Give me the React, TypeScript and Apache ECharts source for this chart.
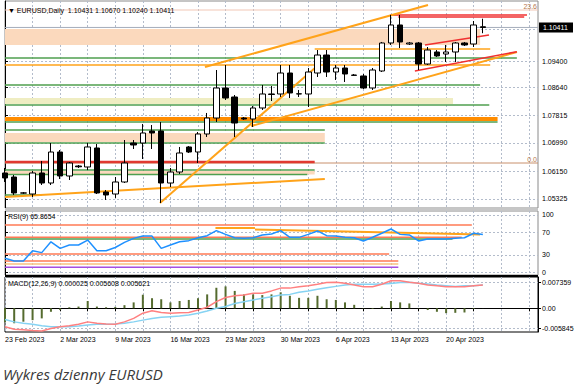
import { useEffect, useRef } from "react";
import * as echarts from "echarts";

const SYMBOL = "EURUSD";
const TIMEFRAME = "Daily";
const CAPTION = "Wykres dzienny EURUSD";
const SLOT_COUNT = 59;
const FIRST_DAY = Date.UTC(2023, 1, 23);
const MONTHS = ["Jan", "Feb", "Mar", "Apr", "May", "Jun", "Jul", "Aug", "Sep", "Oct", "Nov", "Dec"];

// [open, close, low, high]
const candles: number[][] = [
  [1.06096, 1.05948, 1.05829, 1.06244],
  [1.05977, 1.05503, 1.05444, 1.06037],
  [1.055, 1.05505, 1.05473, 1.05532],
  [1.05473, 1.06096, 1.05384, 1.06155],
  [1.06096, 1.05799, 1.0574, 1.06452],
  [1.05799, 1.06718, 1.0574, 1.06985],
  [1.06718, 1.06007, 1.05918, 1.06778],
  [1.06007, 1.06392, 1.05888, 1.06422],
  [1.06303, 1.0628, 1.06244, 1.06333],
  [1.06274, 1.06867, 1.06185, 1.06985],
  [1.06837, 1.05503, 1.05473, 1.06956],
  [1.05532, 1.05444, 1.05296, 1.05592],
  [1.05473, 1.05829, 1.05355, 1.05977],
  [1.05829, 1.06392, 1.05799, 1.07074],
  [1.06985, 1.06926, 1.06807, 1.07074],
  [1.06985, 1.07282, 1.06511, 1.07549],
  [1.07341, 1.07282, 1.06807, 1.07519],
  [1.07341, 1.05799, 1.05207, 1.07608],
  [1.05799, 1.06125, 1.05681, 1.06244],
  [1.06125, 1.06689, 1.06066, 1.06867],
  [1.06867, 1.06718, 1.06689, 1.06896],
  [1.06718, 1.07252, 1.06392, 1.07311],
  [1.07252, 1.07726, 1.07163, 1.07875],
  [1.07726, 1.08616, 1.07608, 1.09149],
  [1.08616, 1.08319, 1.0826, 1.09298],
  [1.08349, 1.07578, 1.07163, 1.08408],
  [1.07726, 1.07697, 1.07667, 1.07756],
  [1.07697, 1.08023, 1.0746, 1.08082],
  [1.08023, 1.08438, 1.07964, 1.08705],
  [1.08438, 1.08425, 1.0823, 1.08675],
  [1.08438, 1.0906, 1.08349, 1.09298],
  [1.0906, 1.08468, 1.08319, 1.09298],
  [1.08438, 1.08445, 1.08349, 1.08557],
  [1.08438, 1.0909, 1.08053, 1.09209],
  [1.0906, 1.09594, 1.08942, 1.09742],
  [1.09594, 1.0909, 1.08942, 1.09742],
  [1.0909, 1.09209, 1.08853, 1.09298],
  [1.09209, 1.09031, 1.08794, 1.09298],
  [1.09001, 1.0899, 1.08972, 1.09031],
  [1.08972, 1.08616, 1.08586, 1.09031],
  [1.08616, 1.09149, 1.08557, 1.09209],
  [1.0912, 1.0995, 1.0909, 1.0998],
  [1.0995, 1.10484, 1.09891, 1.1078],
  [1.10484, 1.0998, 1.09802, 1.1078],
  [1.0992, 1.0995, 1.09891, 1.0998],
  [1.0995, 1.09327, 1.09149, 1.0998],
  [1.09327, 1.09742, 1.09298, 1.09831],
  [1.09683, 1.09565, 1.09535, 1.09742],
  [1.09624, 1.09683, 1.09387, 1.09891],
  [1.09683, 1.0995, 1.09387, 1.0998],
  [1.0995, 1.09891, 1.09861, 1.0998],
  [1.0992, 1.10484, 1.09831, 1.10602],
  [1.10431, 1.10411, 1.1024, 1.1067],
];

const rsi: number[] = [
  24, 19.3, 19.3, 37.4, 34, 53, 41.5, 47.4, 47.4, 56, 37.4, 37.4, 43, 52, 59, 63, 63, 41.5, 47.4, 53,
  55, 60, 63.7, 72.5, 66, 60, 59, 60, 65, 66.7, 72.5, 60.8, 60.8, 66, 72, 63.7, 63, 61, 60, 54.4,
  61, 68, 75.4, 66, 65, 54.4, 58, 58, 58, 59, 60, 68, 65.8654,
];

const macdHist: number[] = [
  -0.004, -0.0043, -0.00385, -0.0034, -0.0029, -0.001, -0.0005, 0.0003, 0.0005, 0.0021,
  0.0005, 0.0003, 0.0004, 0.0009, 0.0017, 0.0039, 0.0029, 0.0026, 0.0017, 0.0021,
  0.0024, 0.0029, 0.004, 0.0059, 0.0063, 0.005, 0.004, 0.004, 0.0038, 0.004,
  0.0046, 0.0036, 0.003, 0.003, 0.0036, 0.0026, 0.0024, 0.0017, 0.001, -0.0001,
  -0.0002, 0.0005, 0.0021, 0.0017, 0.0014, 0.0001, -0.0005, -0.001, -0.0014, -0.0013,
  -0.0012, -0.0002, 0.000025,
];

const macdMain: number[] = [
  -0.0053, -0.006, -0.0062, -0.0064, -0.0065, -0.0058, -0.0053, -0.005, -0.0046, -0.0039,
  -0.0043, -0.0045, -0.0046, -0.0039, -0.0029, -0.0014, -0.0007, -0.0012, -0.0014, -0.0013,
  -0.0012, -0.0005, 0.0003, 0.0019, 0.0031, 0.0036, 0.0038, 0.0043, 0.0043, 0.005,
  0.0058, 0.0058, 0.0062, 0.0065, 0.0069, 0.0074, 0.0075, 0.0072, 0.0067, 0.0062,
  0.0062, 0.0069, 0.0079, 0.0079, 0.0075, 0.0072, 0.0067, 0.0065, 0.0062, 0.0062,
  0.0062, 0.0065, 0.0067,
];

const macdSignal: number[] = [
  -0.0032, -0.0039, -0.0043, -0.0046, -0.005, -0.0053, -0.0053, -0.0053, -0.0051, -0.0048,
  -0.0046, -0.0046, -0.0045, -0.0043, -0.0039, -0.0034, -0.0029, -0.0026, -0.0024, -0.0022,
  -0.0019, -0.0014, -0.0008, 0, 0.0005, 0.0014, 0.0019, 0.0024, 0.0029, 0.0033,
  0.0038, 0.004, 0.0046, 0.005, 0.0055, 0.0059, 0.0063, 0.0067, 0.0069, 0.0069,
  0.0069, 0.007, 0.0071, 0.0074, 0.0075, 0.0072, 0.007, 0.0067, 0.0065, 0.0063,
  0.0065, 0.0065, 0.0067,
];

const macdHeaderValues = [0.000025, 0.005608, 0.005621];

const priceTicks = [1.05325, 1.0615, 1.0699, 1.07815, 1.0864, 1.094, 1.10365];
const rsiTicks = [0, 30, 70, 100];
const macdTicks = [-0.005845, 0, 0.007359];
const priceRange = [1.05058, 1.11195];
const rsiRange = [-5.26, 107];
const macdRange = [-0.006812, 0.008997];

// chart objects: [price, fromSlot, toSlot]
const greenLevels = [
  [1.09505, 0, 55.7], [1.08705, 0, 51.7], [1.08112, 0, 52.7], [1.07608, 0, 53.6],
  [1.07371, 0, 34.8], [1.06985, 0, 34.8], [1.06185, 0, 33.7], [1.06052, 0, 32.9], [1.05444, 0, 4],
];
const orangeLevels = [[1.09298, 0, 52.8], [1.09772, 33.7, 52.8]];
const keyLevels = [[1.07697, 0, 53.6]];
const redThickLevels = [[1.06422, 0, 33.7]];
const redLevels = [[1.1078, 41.9, 56.8], [1.10721, 42.8, 56.5]];
// [fromSlot, toSlot, lowPrice, highPrice]
const peachZones = [[0, 51.7, 1.09891, 1.10365], [0, 34.8, 1.07015, 1.07282], [0, 33.7, 1.06052, 1.06155]];
const yellowZones = [[0, 48.75, 1.08141, 1.08319]];
// [slot1, price1, slot2, price2]
const orangeTrends = [
  [21.76, 1.09238, 46.03, 1.11077],
  [0, 1.05384, 34.8, 1.05918],
  [16.87, 1.05207, 33.73, 1.09209],
  [26.77, 1.07489, 55.71, 1.09683],
];
const redTrends = [
  [45.7, 1.09891, 52.67, 1.10187],
  [44.6, 1.0912, 55.7, 1.09692],
];
// [label, price]
const fibLabels = ["23.6", "0.0"];
const fibPrices = [1.10928, 1.06392];
// RSI panel objects: [value, fromSlot, toSlot]
const rsiCoralLevels = [[82.5, 0, 50.8], [60.9, 0, 49.7], [31.6, 0, 41.8], [19.3, 0, 42.8]];
const rsiGreenLevels = [[57.9, 0, 48.7]];
const rsiLightLevels = [[14, 0, 42.8]];
const rsiPurpleLevels = [[8.2, 0, 42.8]];
const rsiOrangeTrends = [[22.9, 77.2, 27.2, 77.2], [27.2, 74.6, 51.7, 65.8]];

function buildDates(): string[] {
  const out: string[] = [];
  let t = FIRST_DAY;
  while (out.length < SLOT_COUNT) {
    const d = new Date(t);
    if (d.getUTCDay() !== 6) out.push(`${d.getUTCDate()} ${MONTHS[d.getUTCMonth()]} ${d.getUTCFullYear()}`);
    t += 86400000;
  }
  return out;
}

const FONT = "Liberation Sans";
const GRID_DASH = { color: "#b3bccb", type: [2, 2] as number[], width: 1 };

function seg(xi: number, yi: number, pts: number[][], color: string, width: number, z = 3) {
  return {
    type: "line",
    xAxisIndex: xi,
    yAxisIndex: yi,
    data: pts,
    symbol: "none",
    silent: true,
    lineStyle: { color, width },
    z,
  };
}

function levelSeries(xi: number, yi: number, levels: number[][], color: string, width: number, z = 3) {
  return levels.map((l) => seg(xi, yi, [[l[1], l[0]], [l[2], l[0]]], color, width, z));
}

function trendSeries(xi: number, yi: number, trends: number[][], color: string, width: number, z = 4) {
  return trends.map((t) => seg(xi, yi, [[t[0], t[1]], [t[2], t[3]]], color, width, z));
}

function zoneSeries(zones: number[][], color: string) {
  return {
    type: "line",
    xAxisIndex: 1,
    yAxisIndex: 0,
    data: [],
    silent: true,
    z: 1,
    markArea: {
      silent: true,
      itemStyle: { color },
      data: zones.map((z) => [{ coord: [z[0], z[3]] }, { coord: [z[1], z[2]] }]),
    },
  };
}

export default function App() {
  const ref = useRef<HTMLDivElement>(null);
  useEffect(() => {
    if (!ref.current) return;
    const chart = echarts.init(ref.current, undefined, { renderer: "svg" });
    const dates = buildDates();
    const last = candles[candles.length - 1];
    const lastClose = last[1];
    const lastSlot = SLOT_COUNT - 1;
    const header = `\u25BC ${SYMBOL},${TIMEFRAME}  ${last[0].toFixed(5)} ${last[3].toFixed(5)} ${last[2].toFixed(5)} ${last[1].toFixed(5)}`;
    const rsiHeader = `RSI(9) ${rsi[rsi.length - 1].toFixed(4)}`;
    const macdHeader = `MACD(12,26,9) ${macdHeaderValues.map((v) => v.toFixed(6)).join(" ")}`;

    const catAxis = (gi: number, labels: boolean) => ({
      type: "category",
      gridIndex: gi,
      data: dates,
      boundaryGap: false,
      axisLine: { show: labels, lineStyle: { color: "#000", width: 1 } },
      axisTick: { show: labels, interval: 2, length: 3, lineStyle: { color: "#000" } },
      axisLabel: labels
        ? { show: true, interval: 5, align: "left", fontSize: 7, color: "#000", margin: 4, fontFamily: FONT, showMaxLabel: false }
        : { show: false },
      splitLine: { show: true, interval: 2, lineStyle: GRID_DASH },
    });
    const valAxis = (gi: number) => ({ type: "value", gridIndex: gi, min: 0, max: lastSlot, show: false });
    const yAx = (gi: number, range: number[], ticks: number[], fmt: (v: number) => string) => ({
      type: "value",
      gridIndex: gi,
      position: "right",
      min: range[0],
      max: range[1],
      axisLine: { show: true, lineStyle: { color: "#000", width: 1 } },
      axisTick: { show: true, customValues: ticks, length: 3, lineStyle: { color: "#000" } },
      axisLabel: { customValues: ticks, formatter: fmt, fontSize: 7, color: "#000", margin: 4, fontFamily: FONT },
      splitLine: { show: true, lineStyle: GRID_DASH },
    });

    const option: any = {
      animation: false,
      backgroundColor: "#ffffff",
      grid: [
        { left: 5, top: 1, width: 533, height: 207, show: true, borderColor: "#8a8a8a", borderWidth: 1, outerBoundsMode: "none" },
        { left: 5, top: 211, width: 533, height: 64, show: true, borderColor: "#8a8a8a", borderWidth: 1, outerBoundsMode: "none" },
        { left: 5, top: 277, width: 533, height: 55, show: true, borderColor: "#000", borderWidth: 1, outerBoundsMode: "none" },
      ],
      xAxis: [catAxis(0, false), valAxis(0), catAxis(1, false), valAxis(1), catAxis(2, true)],
      yAxis: [
        yAx(0, priceRange, priceTicks, (v: number) => v.toFixed(5)),
        yAx(1, rsiRange, rsiTicks, (v: number) => String(v)),
        yAx(2, macdRange, macdTicks, (v: number) => (v === 0 ? "0.00" : v.toFixed(6))),
      ],
      series: [
        zoneSeries(peachZones, "#fbd9bd"),
        zoneSeries(yellowZones, "#efedc2"),
        seg(1, 0, [[0, fibPrices[0]], [lastSlot, fibPrices[0]]], "#f1c7b6", 1, 2),
        seg(1, 0, [[0, fibPrices[1]], [lastSlot, fibPrices[1]]], "#c8906c", 1, 2),
        seg(1, 0, [[0, lastClose], [lastSlot, lastClose]], "#a4adba", 1, 2),
        ...levelSeries(1, 0, greenLevels, "#4f9f4f", 1.5),
        ...levelSeries(1, 0, orangeLevels, "#ffa31a", 1.5),
        ...levelSeries(1, 0, keyLevels, "#ff8c00", 4),
        ...levelSeries(1, 0, redThickLevels, "#e0392f", 2.5),
        ...levelSeries(1, 0, redLevels, "#f03030", 1.5),
        ...trendSeries(1, 0, orangeTrends, "#ffa31a", 2),
        ...trendSeries(1, 0, redTrends, "#f03030", 1.5),
        {
          type: "candlestick",
          xAxisIndex: 0,
          yAxisIndex: 0,
          data: candles,
          barWidth: 6,
          z: 5,
          itemStyle: { color: "#ffffff", color0: "#000000", borderColor: "#000000", borderColor0: "#000000", borderWidth: 1 },
        },
        ...levelSeries(3, 1, rsiCoralLevels, "#ff7a55", 1.5),
        ...levelSeries(3, 1, rsiGreenLevels, "#4f9f4f", 1.5),
        ...levelSeries(3, 1, rsiLightLevels, "#f9c080", 1.5),
        ...levelSeries(3, 1, rsiPurpleLevels, "#a64ee0", 1.5),
        ...trendSeries(3, 1, rsiOrangeTrends, "#ffa31a", 2),
        {
          type: "line",
          xAxisIndex: 2,
          yAxisIndex: 1,
          data: rsi,
          symbol: "none",
          silent: true,
          z: 5,
          lineStyle: { color: "#1e90ff", width: 1.5 },
        },
        {
          type: "bar",
          xAxisIndex: 4,
          yAxisIndex: 2,
          data: macdHist,
          barWidth: 2,
          silent: true,
          itemStyle: { color: "#556b2f" },
          z: 3,
        },
        {
          type: "line",
          xAxisIndex: 4,
          yAxisIndex: 2,
          data: macdSignal,
          symbol: "none",
          silent: true,
          z: 4,
          lineStyle: { color: "#86d3f3", width: 1.5 },
        },
        {
          type: "line",
          xAxisIndex: 4,
          yAxisIndex: 2,
          data: macdMain,
          symbol: "none",
          silent: true,
          z: 4,
          lineStyle: { color: "#ff8080", width: 1.5 },
        },
      ],
    };
    chart.setOption(option);

    const toPx = (slot: number, price: number) =>
      chart.convertToPixel({ xAxisIndex: 1, yAxisIndex: 0 } as any, [slot, price]) as number[];
    const pricePx = toPx(lastSlot, lastClose);
    const fibGraphics = fibLabels.map((label, i) => {
      const p = toPx(lastSlot, fibPrices[i]);
      return {
        type: "text",
        x: p[0] - 1,
        y: p[1] - 0.5,
        z: 60,
        silent: true,
        style: { text: label, font: `7px "${FONT}"`, fill: "#b8794c", align: "right", verticalAlign: "bottom" },
      };
    });

    chart.setOption({
      graphic: [
        { type: "rect", shape: { x: 5, y: 208, width: 533, height: 3 }, style: { fill: "#c6c6c6" }, z: 50, silent: true },
        { type: "rect", shape: { x: 5, y: 275, width: 533, height: 2 }, style: { fill: "#000" }, z: 50, silent: true },
        {
          type: "rect",
          shape: { x: pricePx[0] + 1, y: pricePx[1] - 5, width: 34, height: 10 },
          style: { fill: "#000" },
          z: 70,
          silent: true,
        },
        {
          type: "text",
          x: pricePx[0] + 5,
          y: pricePx[1],
          z: 71,
          silent: true,
          style: { text: lastClose.toFixed(5), font: `7px "${FONT}"`, fill: "#fff", verticalAlign: "middle" },
        },
        ...fibGraphics,
        { type: "text", x: 8, y: 10, style: { text: header, font: `7px "${FONT}"`, fill: "#000", verticalAlign: "middle" }, z: 60, silent: true },
        { type: "text", x: 8, y: 216, style: { text: rsiHeader, font: `7px "${FONT}"`, fill: "#000", verticalAlign: "middle" }, z: 60, silent: true },
        { type: "text", x: 8, y: 283, style: { text: macdHeader, font: `7px "${FONT}"`, fill: "#000", verticalAlign: "middle" }, z: 60, silent: true },
        { type: "text", x: 3, y: 374, style: { text: CAPTION, font: 'italic 15px "Open Sans"', fill: "#3a3a3a", verticalAlign: "middle" }, z: 60, silent: true },
      ],
    });
    return () => chart.dispose();
  }, []);
  return <div ref={ref} style={{ position: "fixed", left: 0, top: 0, width: 574, height: 388, background: "#fff" }} />;
}
